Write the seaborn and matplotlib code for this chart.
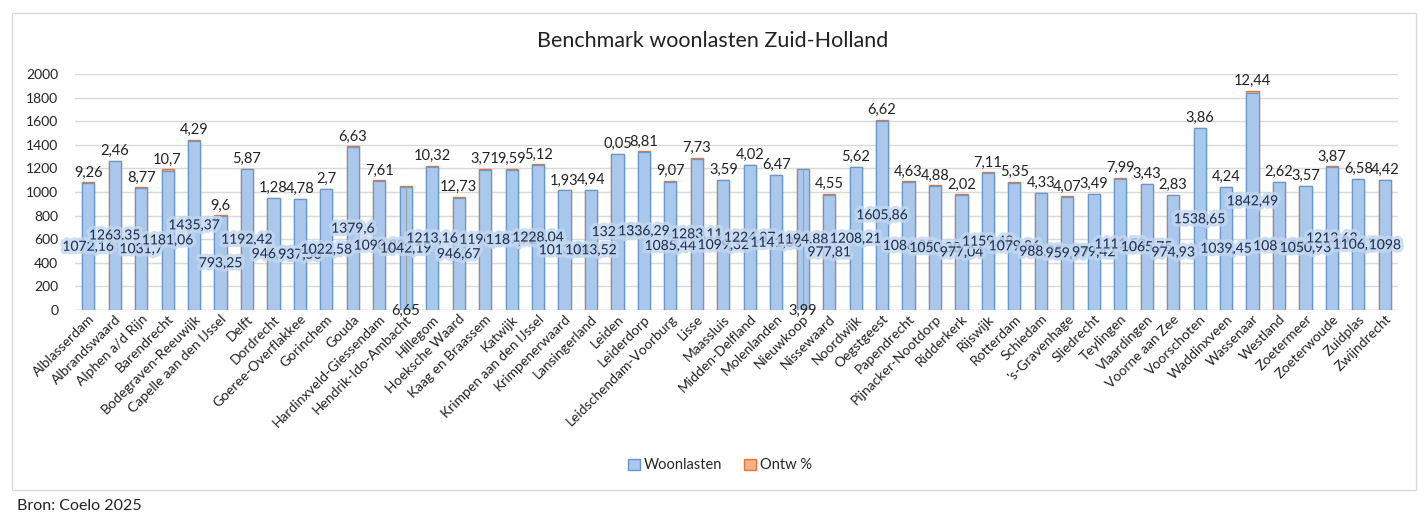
import numpy as np
import pandas as pd
import matplotlib
matplotlib.use('Agg')
import matplotlib.pyplot as plt
import matplotlib.patheffects as pe
from matplotlib.patches import Rectangle, Patch
import seaborn as sns

# Data
gemeenten = [
    'Alblasserdam', 'Albrandswaard', 'Alphen a/d Rijn', 'Barendrecht',
    'Bodegraven-Reeuwijk', 'Capelle aan den IJssel', 'Delft', 'Dordrecht',
    'Goeree-Overflakkee', 'Gorinchem', 'Gouda', 'Hardinxveld-Giessendam',
    'Hendrik-Ido-Ambacht', 'Hillegom', 'Hoeksche Waard', 'Kaag en Braassem',
    'Katwijk', 'Krimpen aan den IJssel', 'Krimpenerwaard', 'Lansingerland',
    'Leiden', 'Leiderdorp', 'Leidschendam-Voorburg', 'Lisse', 'Maassluis',
    'Midden-Delfland', 'Molenlanden', 'Nieuwkoop', 'Nissewaard', 'Noordwijk',
    'Oegstgeest', 'Papendrecht', 'Pijnacker-Nootdorp', 'Ridderkerk',
    'Rijswijk', 'Rotterdam', 'Schiedam', "'s-Gravenhage", 'Sliedrecht',
    'Teylingen', 'Vlaardingen', 'Voorne aan Zee', 'Voorschoten',
    'Waddinxveen', 'Wassenaar', 'Westland', 'Zoetermeer', 'Zoeterwoude',
    'Zuidplas', 'Zwijndrecht',
]
woonlasten = [
    1072.16, 1263.35, 1031.7, 1181.06, 1435.37, 793.25, 1192.42, 946.93,
    937.56, 1022.58, 1379.6, 1090.82, 1042.19, 1213.16, 946.67, 1190.14,
    1187.72, 1228.04, 1013.14, 1013.52, 1321.53, 1336.29, 1085.44, 1283.11,
    1099.32, 1224.87, 1141.03, 1194.88, 977.81, 1208.21, 1605.86, 1086.85,
    1050.38, 977.04, 1159.48, 1079.86, 988.95, 959.97, 979.42, 1111.53,
    1065.75, 974.93, 1538.65, 1039.45, 1842.49, 1081.22, 1050.93, 1213.63,
    1106.78, 1098,
]
ontw = [
    9.26, 2.46, 8.77, 10.7, 4.29, 9.6, 5.87, 1.28, 4.78, 2.7, 6.63, 7.61,
    6.65, 10.32, 12.73, 3.71, 9.59, 5.12, 1.93, 4.94, 0.05, 8.81, 9.07,
    7.73, 3.59, 4.02, 6.47, 3.99, 4.55, 5.62, 6.62, 4.63, 4.88, 2.02, 7.11,
    5.35, 4.33, 4.07, 3.49, 7.99, 3.43, 2.83, 3.86, 4.24, 12.44, 2.62, 3.57,
    3.87, 6.58, 4.42,
]
# Ontw labels that Excel placed down at the axis
low_labels = ['Hendrik-Ido-Ambacht', 'Nieuwkoop']

df = pd.DataFrame({'gemeente': gemeenten, 'woonlasten': woonlasten, 'ontw': ontw})
df['totaal'] = df['woonlasten'] + df['ontw']


def nl(v):
    s = ('%.2f' % v).rstrip('0').rstrip('.')
    return s.replace('.', ',')


sns.set_style('white')
plt.rcParams['font.family'] = ['Lato', 'DejaVu Sans']

fig = plt.figure(figsize=(14.26, 5.28), dpi=100)
ax = fig.add_axes([0.0526, 0.4129, 0.9278, 0.4469])

blue_fill = '#a9c8ec'
blue_edge = '#6797cf'
orange_fill = '#f4b183'
orange_edge = '#e3783a'

# stacked: total bar in orange, woonlasten drawn over it
sns.barplot(data=df, x='gemeente', y='totaal', color=orange_fill, saturation=1,
            width=0.46, edgecolor=orange_edge, linewidth=1.0, ax=ax)
sns.barplot(data=df, x='gemeente', y='woonlasten', color=blue_fill, saturation=1,
            width=0.46, edgecolor=blue_edge, linewidth=0.9, ax=ax)

ax.set_xlim(-0.5, len(df) - 0.5)
ax.set_ylim(0, 2000)
ax.set_yticks(np.arange(0, 2001, 200))
ax.yaxis.grid(True, color='#d9d9d9', linewidth=1)
ax.set_axisbelow(True)
for s in ax.spines.values():
    s.set_visible(False)
ax.axhline(0, color='#d9d9d9', linewidth=1, zorder=0.5)
ax.set_xlabel('')
ax.set_ylabel('')
ax.tick_params(axis='y', labelsize=10, length=0, pad=12, labelcolor='#222222')
ax.tick_params(axis='x', labelsize=10, length=0, pad=2, labelcolor='#222222')
plt.setp(ax.get_xticklabels(), rotation=45, ha='right', rotation_mode='anchor')

glow = [pe.withStroke(linewidth=5, foreground='#c3d8f0', alpha=0.8)]
for i, row in df.iterrows():
    ax.text(i, row['woonlasten'] / 2, nl(row['woonlasten']), ha='center',
            va='center', fontsize=10, color='#1f3050', path_effects=glow,
            zorder=5)
    if row['gemeente'] in low_labels:
        ax.plot([i, i], [25, row['totaal']], color='#a0a0a0', linewidth=0.8,
                zorder=4)
        ax.text(i, -10, nl(row['ontw']), ha='center', va='center',
                fontsize=10.5, color='#222222', zorder=6)
    else:
        ax.annotate(nl(row['ontw']), (i, row['totaal']), xytext=(0, 2),
                    textcoords='offset points', ha='center', va='bottom',
                    fontsize=10.5, color='#222222', zorder=6)

fig.text(0.5, 0.922, 'Benchmark woonlasten Zuid-Holland', ha='center',
         va='center', fontsize=15.5, color='#222222')

handles = [Patch(facecolor=blue_fill, edgecolor=blue_edge, label='Woonlasten'),
           Patch(facecolor=orange_fill, edgecolor=orange_edge, label='Ontw %')]
fig.legend(handles=handles, loc='center', bbox_to_anchor=(0.505, 0.119), ncol=2,
           frameon=False, fontsize=10.5, handlelength=0.8, handleheight=0.8,
           handletextpad=0.3, columnspacing=1.5)

# chart area border
fig.patches.append(Rectangle((12 / 1426, 1 - 490 / 528), 1404 / 1426, 477 / 528,
                             transform=fig.transFigure, fill=False,
                             edgecolor='#d9d9d9', linewidth=1))

fig.text(17 / 1426, 1 - 506 / 528, 'Bron: Coelo 2025', ha='left', va='center',
         fontsize=11.5, color='#222222')

fig.savefig('out.png', dpi=100, facecolor='white')
